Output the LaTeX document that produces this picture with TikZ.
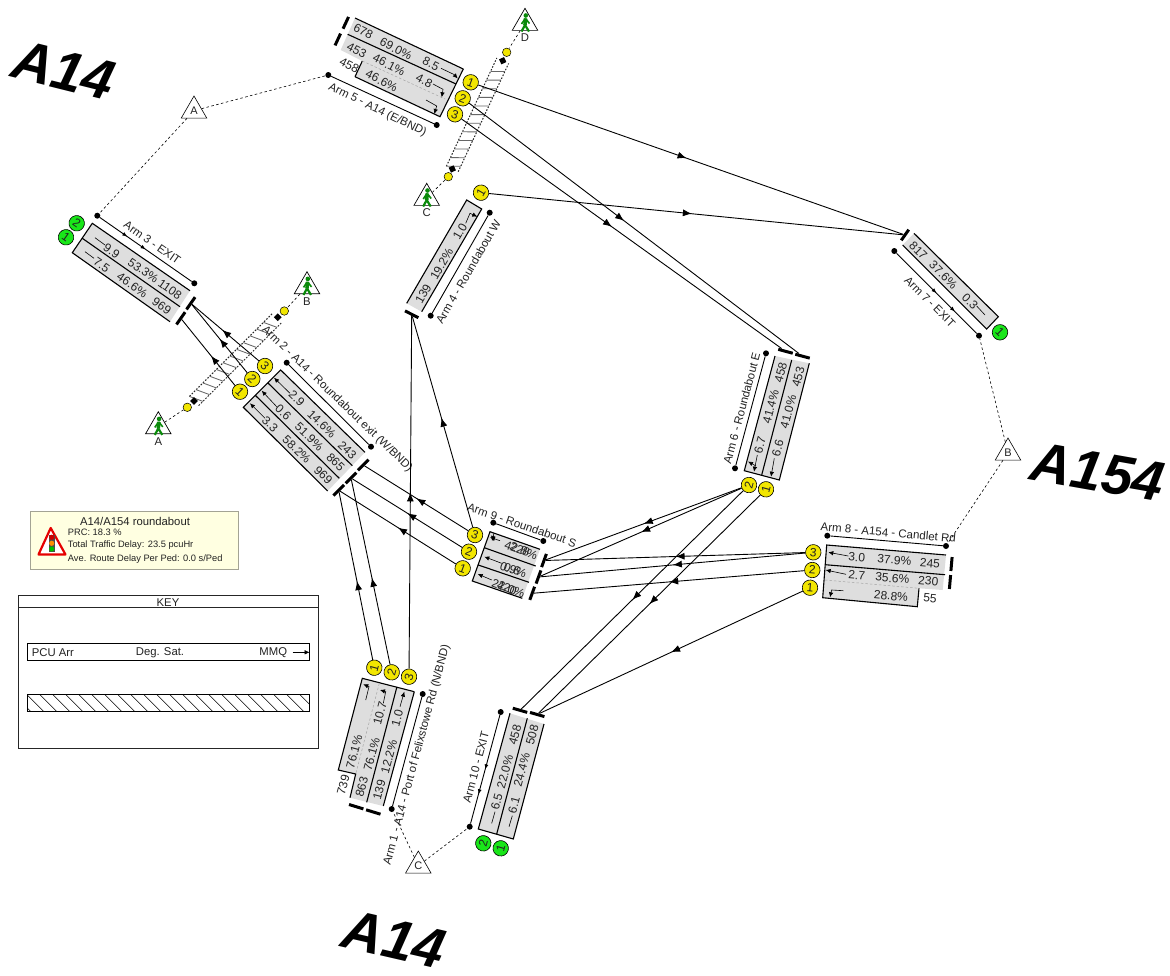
\documentclass[tikz,border=0pt]{standalone}
\usepackage{fontspec}
\setmainfont{Liberation Sans}
\usetikzlibrary{arrows.meta,decorations.markings,shapes.geometric,calc}
\definecolor{lanegray}{HTML}{DEDEDE}
\definecolor{inkc}{HTML}{222222}
\definecolor{sigyellow}{HTML}{F2E600}
\definecolor{siggreen}{HTML}{19E619}
\definecolor{walkgreen}{HTML}{0A8A0A}
\definecolor{boxyellow}{HTML}{FFFFE1}
\newcounter{tn}
\newcommand{\fs}[1]{\fontsize{#1}{#1}\selectfont}
% text in a lane
\newcommand{\lanetext}[4]{\stepcounter{tn}\node[lanelabel,rotate=#3] (t\arabic{tn}) at (#1,#2) {#4};}
\newcommand{\armname}[4]{\stepcounter{tn}\node[armlabel,rotate=#3] (t\arabic{tn}) at (#1,#2) {#4};}
% signal circles
\newcommand{\sigc}[6]{\node[#1,rotate=#5] (#2) at (#3,#4) {#6};}
% stop line
\newcommand{\stopl}[5]{\node[stopbar,rotate=#4,minimum width=#5] (#1) at (#2,#3) {};}
% pedestrian sign
\newcommand{\pedsign}[4]{%
  \pgfmathsetmacro\psy{#3+14.7}\pgfmathsetmacro\psl{#3+29.5}%
  \node[pedtri] (#1) at (#2,\psy) {};
  \pic at (#2,\psy) {walker};
  \node[keytext,inner sep=0pt] (#1t) at (#2,\psl) {#4};}
% crossing
\newcommand{\crosswalk}[4]{%
  \pgfmathsetmacro\cwL{veclen(#3-#1,#4-#2)}%
  \pgfmathsetmacro\ux{(#3-#1)/\cwL}\pgfmathsetmacro\uy{(#4-#2)/\cwL}%
  \pgfmathsetmacro\nx{-\uy*6.5}\pgfmathsetmacro\ny{\ux*6.5}%
  \draw[cwedge] (#1+\nx,#2+\ny) -- (#3+\nx,#4+\ny);
  \draw[cwedge] (#1-\nx,#2-\ny) -- (#3-\nx,#4-\ny);
  \pgfmathtruncatemacro\cwN{(\cwL-6)/9.5}%
  \foreach \i in {0,...,\cwN}{%
    \pgfmathsetmacro\sa{6+\i*9.5}\pgfmathsetmacro\sb{\sa-6}%
    \draw[cwhatch] (#1+\ux*\sa+\nx,#2+\uy*\sa+\ny) -- (#1+\ux*\sb-\nx,#2+\uy*\sb-\ny);
  }}
\tikzset{
  lanelabel/.style={inner sep=0pt,text=inkc,font=\fs{12}},
  armlabel/.style={inner sep=0pt,text=inkc,font=\fs{11.5}},
  keytext/.style={inner sep=0pt,text=inkc,font=\fs{11.3}},
  lanefill/.style={fill=lanegray,draw=none},
  edge/.style={line width=1.1pt,black},
  divgray/.style={dashed,line width=.5pt,gray!70,dash pattern=on 2.5pt off 2pt},
  lanearrow/.style={line width=.6pt,black,-{Latex[length=5pt,width=4.5pt]}},
  lanedash/.style={line width=.6pt,black},
  sigy/.style={circle,draw=black,line width=.6pt,fill=sigyellow,minimum size=15.5pt,inner sep=0pt,text=inkc,font=\fs{12}},
  sigg/.style={circle,draw=black,line width=.6pt,fill=siggreen,minimum size=15.5pt,inner sep=0pt,text=inkc,font=\fs{12}},
  stopbar/.style={fill=black,draw=none,minimum height=3pt,inner sep=0pt},
  armdot/.style={circle,fill=black,minimum size=6pt,inner sep=0pt},
  armline/.style={line width=.9pt,black},
  midtip/.style={postaction={decorate},decoration={markings,mark=at position .5 with {\arrow{Latex[length=5pt,width=4pt]}}}},
  flow/.style={line width=.9pt,black,postaction={decorate},decoration={markings,mark=at position #1 with {\arrow{Latex[length=9pt,width=7pt]}}}},
  flow/.default=0.5,
  zonetri/.style={regular polygon,regular polygon sides=3,draw=black,line width=.6pt,fill=white,minimum size=29.4pt,inner sep=0pt,text=inkc,font=\fs{11}},
  pedtri/.style={regular polygon,regular polygon sides=3,draw=black,line width=.7pt,fill=white,minimum size=29.4pt,inner sep=0pt},
  zonelink/.style={dashed,line width=.6pt,black,dash pattern=on 2.5pt off 2.5pt},
  cwedge/.style={line width=1pt,black!85,dash pattern=on 1.6pt off 1.6pt},
  cwhatch/.style={line width=.85pt,black!60},
  pedsq/.style={fill=black,minimum size=5.5pt,inner sep=0pt},
  pedcirc/.style={circle,draw=black,line width=.5pt,fill=sigyellow,minimum size=8.5pt,inner sep=0pt},
  biglabel/.style={inner sep=0pt,font=\fs{56}\bfseries\itshape,text=black},
  walker/.pic={
    \fill[walkgreen] (0.8,-7.5) circle (2.3);
    \draw[walkgreen,line width=3.6pt] (0.5,-4.5) -- (0,2);
    \draw[walkgreen,line width=2.2pt] (0,2) -- (-3.5,8.5) (0,2) -- (4,8.5);
    \draw[walkgreen,line width=1.6pt] (0.3,-4.5) -- (-3.5,1) (0.5,-4.5) -- (4.5,0.5);
  },
}
\begin{document}
\begin{tikzpicture}[x=1pt,y=-1pt]
\useasboundingbox (0,0) rectangle (1170,975);
\fill[white] (0,0) rectangle (1170,975);

% big road names
\node[biglabel,rotate=-14] (roadA) at (64,70) {A14};
\node[biglabel,rotate=-10] (roadB) at (1098,472) {A154};
\node[biglabel,rotate=-13] (roadC) at (394,939) {A14};

% zones
\node[zonetri] (zA) at (194,110.7) {A};
\node[zonetri] (zB) at (1008,452.7) {B};
\node[zonetri] (zC) at (418.3,865.7) {C};

% ---- crossings
\crosswalk{452.3}{169}{502.7}{60.7}
\crosswalk{194}{401}{277.7}{317.3}
\node[pedsq,rotate=25] (sqC) at (452.3,169) {};
\node[pedsq,rotate=25] (sqD) at (502.7,60.7) {};
\node[pedsq,rotate=45] (sqA) at (194,401) {};
\node[pedsq,rotate=45] (sqB) at (277.7,317.3) {};
\node[pedcirc] (pcC) at (448.3,176.7) {};
\node[pedcirc] (pcD) at (506.7,52.3) {};
\node[pedcirc] (pcA) at (187.3,407.3) {};
\node[pedcirc] (pcB) at (284.3,311) {};
\pedsign{psC}{426.7}{183.3}{C}
\pedsign{psD}{525}{8.3}{D}
\pedsign{psA}{158.3}{411.7}{A}
\pedsign{psB}{307}{271.7}{B}
\draw[zonelink] (psC) -- (pcC);
\draw[zonelink] (psD) -- (pcD);
\draw[zonelink] (psA) -- (pcA);
\draw[zonelink] (psB) -- (pcB);

% ---- Arm 5
\filldraw[lanefill] (355,18) -- (463.3,69) -- (440,116.7) -- (355,76.7) -- (362.3,61) -- (340.7,50) -- (347.7,34.3) -- cycle;
\draw[edge] (355,18) -- (463.3,69) (347.7,34.3) -- (456,84);
\draw[edge] (355,76.7) -- (362.3,61) (355,76.7) -- (440,116.7) -- (463.3,69);
\draw[divgray] (362.3,61) -- (445,99);
\lanetext{363.3}{31.7}{-27}{678}
\lanetext{396}{49}{-27}{69.0\%}
\lanetext{431}{64}{-27}{8.5}
\lanetext{356.7}{50.7}{-27}{453}
\lanetext{389}{65}{-27}{46.1\%}
\lanetext{424.3}{81}{-27}{4.8}
\lanetext{349.3}{65.7}{-27}{458}
\lanetext{381.7}{81}{-27}{46.6\%}
\draw[lanearrow] (441,68.3) -- (454,74.5) -- (457.7,78.5);
\draw[lanearrow] (433,84) -- (443,89.3) -- (441.7,97.3);
\draw[lanearrow] (426,100) -- (436.7,106) -- (434.3,114);
\node[armdot] (d5a) at (328.3,75) {};
\node[armdot] (d5b) at (436.7,125) {};
\draw[armline] (d5a) -- (d5b);
\armname{377.5}{110}{-26}{Arm 5 - A14 (E/BND)}
\stopl{b51}{345.8}{22.8}{65}{13}
\stopl{b52}{337.8}{39.5}{65}{13}
\sigc{sigy}{c51}{470.7}{82.3}{-20}{1}
\sigc{sigy}{c52}{462.7}{98.3}{-20}{2}
\sigc{sigy}{c53}{455}{114.3}{-20}{3}

% ---- Arm 3
\filldraw[lanefill] (92.3,223.3) -- (190,290.7) -- (170,321.7) -- (72.3,252.7) -- cycle;
\draw[edge] (190,290.7) -- (92.3,223.3) -- (72.3,252.7) -- (170,321.7) (82.3,238.3) -- (180,306.7);
\draw[lanedash] (95,237.7) -- (105,245) (85,251.7) -- (94,258.3);
\lanetext{111.7}{250.7}{-35}{9.9}
\lanetext{143.3}{270.7}{-35}{53.3\%}
\lanetext{170}{289.3}{-35}{1108}
\lanetext{101.7}{265}{-35}{7.5}
\lanetext{132.3}{285}{-35}{46.6\%}
\lanetext{161.7}{306}{-35}{969}
\node[armdot] (d3a) at (97.3,215.7) {};
\node[armdot] (d3b) at (194.3,283.3) {};
\draw[armline,midtip,decoration={markings,mark=at position .3 with {\arrow{Latex[length=5pt,width=4pt]}}}] (d3a) -- (d3b);
\armname{152.3}{242.7}{-35}{Arm 3 - EXIT}
\stopl{b31}{190.8}{303.3}{55}{15}
\stopl{b32}{180.8}{318.3}{55}{15}
\sigc{sigg}{c32}{76.7}{223.3}{-35}{2}
\sigc{sigg}{c31}{66}{237.3}{-35}{1}

% ---- Arm 2
\filldraw[lanefill] (280.7,370) -- (365,452.3) -- (327.7,491) -- (243.3,407.3) -- cycle;
\draw[edge] (365,452.3) -- (280.7,370) -- (243.3,407.3) -- (327.7,491) (268.3,383.3) -- (352.3,465.7) (255,395) -- (339.3,478.3);
\lanetext{296.7}{398.3}{-44}{2.9}
\lanetext{321.7}{424}{-44}{14.6\%}
\lanetext{347.3}{450}{-44}{243}
\lanetext{283.3}{412.7}{-44}{0.6}
\lanetext{309.3}{436.7}{-44}{51.9\%}
\lanetext{335.7}{462.3}{-44}{865}
\lanetext{270}{424}{-44}{3.3}
\lanetext{296.7}{449.3}{-44}{58.2\%}
\lanetext{323.3}{475}{-44}{969}
\draw[lanearrow] (290,393.3) -- (274,377.7);
\draw[lanearrow] (276.7,406.7) -- (261.7,390.7);
\draw[lanearrow] (265,418.3) -- (250,403.3);
\node[armdot] (d2a) at (286.7,362.7) {};
\node[armdot] (d2b) at (371,446.7) {};
\draw[armline] (d2a) -- (d2b);
\armname{337}{399}{-44}{Arm 2 - A14 - Roundabout exit (W/BND)}
\stopl{b21}{363.2}{465}{45}{15}
\stopl{b22}{351}{478}{45}{15}
\stopl{b23}{338.7}{490.3}{45}{15}
\sigc{sigy}{c23}{265}{366}{-44}{3}
\sigc{sigy}{c22}{252.3}{379}{-44}{2}
\sigc{sigy}{c21}{240}{391.7}{-44}{1}

% ---- Arm 4
\filldraw[lanefill] (466.7,200) -- (481.7,209) -- (421.7,311.7) -- (406.7,303.3) -- cycle;
\draw[edge] (421.7,311.7) -- (481.7,209) -- (466.7,200) -- (406.7,303.3);
\lanetext{423.3}{294}{60}{139}
\lanetext{441.7}{264}{60}{19.2\%}
\lanetext{460}{231.7}{60}{1.0}
\draw[lanearrow] (465.7,223.3) -- (470,213.3) -- (477.3,216.7);
\node[armdot] (d4a) at (489.7,212.7) {};
\node[armdot] (d4b) at (430.7,315.7) {};
\draw[armline] (d4a) -- (d4b);
\armname{468.3}{271.7}{60}{Arm 4 - Roundabout W}
\stopl{b41}{411.7}{314.3}{-27}{15}
\sigc{sigy}{c41}{481}{192.7}{60}{1}

% ---- Arm 7
\filldraw[lanefill] (914,233.3) -- (998.3,316.7) -- (986.7,329) -- (902.7,245) -- cycle;
\draw[edge] (914,233.3) -- (998.3,316.7) -- (986.7,329) -- (902.7,245);
\lanetext{918.3}{250.7}{-45}{817}
\lanetext{943.3}{275}{-45}{37.6\%}
\lanetext{970}{301.7}{-45}{0.3}
\draw[lanedash] (976.7,306) -- (985,315);
\node[armdot] (d7a) at (894.3,251) {};
\node[armdot] (d7b) at (979,335.7) {};
\draw[armline,midtip,decoration={markings,mark=at position .73 with {\arrow{Latex[length=5pt,width=4pt]}}}] (d7a) -- (d7b);
\armname{930}{301.7}{-45}{Arm 7 - EXIT}
\stopl{b71}{905}{235}{55}{13}
\sigc{sigg}{c71}{1000}{332.3}{-45}{1}

% ---- Arm 6
\filldraw[lanefill] (775,356) -- (809.3,363.3) -- (779.3,480) -- (744.3,470.7) -- cycle;
\draw[edge] (775,356) -- (744.3,470.7) -- (779.3,480) -- (809.3,363.3) (791.7,360) -- (761.7,475);
\lanetext{760}{445}{75}{6.7}
\lanetext{770.7}{406.7}{75}{41.4\%}
\lanetext{780.7}{372.3}{75}{458}
\lanetext{777.7}{448.3}{75}{6.6}
\lanetext{788.3}{411.7}{75}{41.0\%}
\lanetext{798.3}{376.7}{75}{453}
\draw[lanearrow] (757.3,455) -- (754,471.7);
\draw[lanearrow] (774.3,458.3) -- (771,476.7);
\draw[lanearrow] (756,466) -- (748,461.5);
\node[armdot] (d6a) at (766,353.3) {};
\node[armdot] (d6b) at (735,468.3) {};
\draw[armline] (d6a) -- (d6b);
\armname{741.7}{408.3}{75}{Arm 6 - Roundabout E}
\stopl{b61}{785.5}{351.3}{-15}{15}
\stopl{b62}{802.5}{356.2}{-15}{15}
\sigc{sigy}{c62}{749}{485}{75}{2}
\sigc{sigy}{c61}{766}{489.3}{75}{1}

% ---- Arm 8
\filldraw[lanefill] (826.7,545) -- (946,555) -- (942.7,590) -- (919,588.3) -- (917.3,606.7) -- (822.7,597.7) -- cycle;
\draw[edge] (946,555) -- (826.7,545) -- (822.7,597.7) -- (917.3,606.7) -- (919,588.3);
\draw[edge] (825.3,564.7) -- (945,574.7);
\draw[divgray] (825,580) -- (919,588.3);
\lanetext{856.7}{557.3}{-5}{3.0}
\lanetext{894.3}{560}{-5}{37.9\%}
\lanetext{930}{563.3}{-5}{245}
\lanetext{856.7}{575}{-5}{2.7}
\lanetext{892.3}{578.3}{-5}{35.6\%}
\lanetext{928.3}{581}{-5}{230}
\lanetext{891}{596}{-5}{28.8\%}
\lanetext{930}{598.3}{-5}{55}
\draw[lanearrow] (848.3,556) -- (828.3,552.3);
\draw[lanearrow] (846,574.3) -- (825.7,570);
\draw[lanearrow] (843.3,590.7) -- (831.7,590) -- (830,597.3);
\node[armdot] (d8a) at (827.3,535.7) {};
\node[armdot] (d8b) at (946,546) {};
\draw[armline] (d8a) -- (d8b);
\armname{888.3}{532.5}{-5}{Arm 8 - A154 - Candlet Rd}
\stopl{b81}{951.5}{564}{85}{14}
\stopl{b82}{950}{582}{85}{14}
\sigc{sigy}{c83}{813.3}{552.3}{-5}{3}
\sigc{sigy}{c82}{812.3}{570}{-5}{2}
\sigc{sigy}{c81}{810}{587.7}{-5}{1}

% ---- Arm 9
\filldraw[lanefill] (490,531.7) -- (540,549.3) -- (522.3,598.3) -- (472.3,581) -- cycle;
\draw[edge] (540,549.3) -- (490,531.7) -- (472.3,581) -- (522.3,598.3) (484.3,547.7) -- (535.7,566) (478.3,565) -- (529,582.3);
\lanetext{521}{550}{-20}{42.8\%}
\lanetext{520}{549.5}{-20}{228}
\lanetext{513.3}{570}{-20}{0.9\%}
\lanetext{512}{569.5}{-20}{0.6}
\lanetext{508.3}{588.3}{-20}{22.0\%}
\lanetext{507}{588}{-20}{420}
\draw[lanearrow] (500,540.7) -- (490,537.3);
\draw[lanearrow] (501.7,563.3) -- (484.3,556.7);
\draw[lanearrow] (491.7,580) -- (477.7,574);
\draw[lanearrow] (494,533) -- (492,541);
\node[armdot] (d9a) at (493.3,522.7) {};
\node[armdot] (d9b) at (543.3,541) {};
\draw[armline] (d9a) -- (d9b);
\armname{522}{525}{-19}{Arm 9 - Roundabout S}
\stopl{b91}{544}{560.5}{70}{14}
\stopl{b92}{538.5}{577}{70}{14}
\stopl{b93}{532.2}{593.3}{70}{14}
\sigc{sigy}{c93}{475}{535}{-20}{3}
\sigc{sigy}{c92}{469}{551.7}{-20}{2}
\sigc{sigy}{c91}{462.7}{568.3}{-20}{1}

% ---- Arm 1
\filldraw[lanefill] (362.3,678.3) -- (414.3,691.7) -- (383.3,806) -- (350,797.7) -- (355.7,774) -- (338.3,770) -- cycle;
\draw[edge] (414.3,691.7) -- (362.3,678.3) -- (338.3,770) -- (355.7,774) -- (350,797.7) (414.3,691.7) -- (383.3,806) (396.7,687.7) -- (366.7,802.3);
\draw[divgray] (379.3,683.3) -- (355.7,774);
\lanetext{354.3}{751.7}{75}{76.1\%}
\lanetext{343.3}{785}{75}{739}
\lanetext{371.7}{754.3}{75}{76.1\%}
\lanetext{361.7}{786.7}{75}{863}
\lanetext{380}{713.3}{75}{10.7}
\lanetext{389}{756.7}{75}{12.2\%}
\lanetext{379.3}{790}{75}{139}
\lanetext{397.3}{718.3}{75}{1.0}
\draw[lanearrow] (365.7,700) -- (369,686.7) -- (363.3,684.3);
\draw[lanearrow] (383.3,703.3) -- (385.7,691.7) -- (380,690);
\draw[lanearrow] (400,706.7) -- (404.3,691.7);
\node[armdot] (d1a) at (422.7,694) {};
\node[armdot] (d1b) at (391.7,809) {};
\draw[armline] (d1a) -- (d1b);
\armname{417}{755}{75}{Arm 1 - A14 - Port of Felixstowe Rd (N/BND)}
\stopl{b11}{356.2}{806.7}{-17}{15}
\stopl{b12}{373.3}{812}{-17}{15}
\sigc{sigy}{c11}{374.3}{667.7}{75}{1}
\sigc{sigy}{c12}{391.7}{672.3}{75}{2}
\sigc{sigy}{c13}{409}{676.7}{75}{3}

% ---- Arm 10
\filldraw[lanefill] (510,713.3) -- (544,724) -- (513.3,839) -- (478.3,829) -- cycle;
\draw[edge] (510,713.3) -- (478.3,829) -- (513.3,839) -- (544,724) (527.3,718.3) -- (496.7,834);
\draw[lanedash] (491.7,823.3) -- (495,811.7) (509,826.7) -- (512.3,815.7);
\lanetext{496.7}{801.7}{75}{6.5}
\lanetext{505}{771.7}{75}{22.0\%}
\lanetext{515}{735}{75}{458}
\lanetext{514}{805}{75}{6.1}
\lanetext{521.7}{770}{75}{24.4\%}
\lanetext{532.3}{735}{75}{508}
\node[armdot] (d10a) at (500.7,712) {};
\node[armdot] (d10b) at (469.7,826.7) {};
\draw[armline,midtip,decoration={markings,mark=at position .73 with {\arrow{Latex[length=5pt,width=4pt]}}}] (d10a) -- (d10b);
\armname{476}{767.3}{75}{Arm 10 - EXIT}
\stopl{b101}{520}{710.3}{-16}{15}
\stopl{b102}{537.2}{714.5}{-16}{15}
\sigc{sigg}{c102}{483.3}{843.3}{75}{2}
\sigc{sigg}{c101}{500.7}{848.3}{75}{1}

% ---- zone links
\draw[zonelink] (zA) -- (d5a);
\draw[zonelink] (zA) -- (d3a);
\draw[zonelink] (zB) -- (d7b);
\draw[zonelink] (zB) -- (d8b);
\draw[zonelink] (zC) -- (d1b);
\draw[zonelink] (zC) -- (d10b);

% ---- traffic flows
\draw[flow=.45] (c21) -- (b32);
\draw[flow=.5] (c22) -- (b31);
\draw[flow=.55] (c23) -- (b31);
\draw[flow=.49] (c51) -- (b71);
\draw[flow=.49] (c41) -- (b71);
\draw[flow=.47] (c52) -- (b62);
\draw[flow=.47] (c53) -- (b61);
\draw[flow=.5] (c93) -- (b21);
\draw[flow=.5] (c92) -- (b22);
\draw[flow=.5] (c91) -- (b23);
\draw[flow=.52] (c93) -- (b41);
\draw[flow=.47] (c11) -- (b23);
\draw[flow=.47] (c12) -- (b22);
\draw[flow=.5] (c13) -- (b41);
\draw[flow=.5] (c62) -- (b91);
\draw[flow=.5] (c62) -- (b92);
\draw[flow=.5] (c83) -- (b91);
\draw[flow=.5] (c83) -- (b92);
\draw[flow=.5] (c82) -- (b93);
\draw[flow=.5] (c62) -- (b101);
\draw[flow=.5] (c61) -- (b102);
\draw[flow=.5] (c81) -- (b102);

% ---- info box
\node[draw=black!30!boxyellow!70!gray,line width=.8pt,fill=boxyellow,minimum width=207.6pt,minimum height=57.3pt,inner sep=0pt] (info) at (134.5,540.3) {};
\node[inner sep=0pt,text=inkc,font=\fs{11.3}] (infoT) at (135,521) {A14/A154 roundabout};
\node[inner sep=0pt,anchor=west,text=inkc,font=\fs{9.3}] (info1) at (67.7,532.7) {PRC: 18.3 \%};
\node[inner sep=0pt,anchor=west,text=inkc,font=\fs{9.3}] (info2) at (67.7,544.7) {Total Traffic Delay: 23.5 pcuHr};
\node[inner sep=0pt,anchor=west,text=inkc,font=\fs{9.3}] (info3) at (67.7,559) {Ave. Route Delay Per Ped: 0.0 s/Ped};
\draw[red!90!black,line width=2.2pt,fill=white,line join=round] (50.7,528) -- (38.5,554.5) -- (65.5,554.5) -- cycle;
\fill[black!70] (49,534.5) rectangle (54.5,552);
\fill[red!80!black] (51.7,537.3) circle (2.6);
\fill[orange!90!yellow] (51.7,543.3) circle (2.6);
\fill[green!75!black] (51.7,549) circle (2.6);

% ---- key
\node[draw=black!85,line width=.8pt,minimum width=300pt,minimum height=153.3pt,inner sep=0pt] (keybox) at (168.3,671.7) {};
\draw[line width=.7pt,black!85] (18.3,607.7) -- (319,607.7);
\node[keytext] (keyT) at (168,602.5) {KEY};
\node[draw=black,line width=.7pt,minimum width=282pt,minimum height=17pt,inner sep=0pt] (keyrow) at (168.3,651.8) {};
\node[keytext,anchor=west] (keyA) at (31.7,653) {PCU Arr};
\node[keytext] (keyB) at (160,653) {Deg. Sat.};
\node[keytext] (keyC) at (273.3,653) {MMQ};
\coordinate (keyar) at (292.7,652.3);
\draw[lanearrow] (keyar) -- (keyrow.east |- keyar);
\node[draw=black,line width=.7pt,minimum width=282pt,minimum height=16.6pt,inner sep=0pt] (keyhatch) at (168.3,703) {};
\begin{scope}
\clip (27.3,694.7) rectangle (309.3,711.3);
\foreach \hx in {0,13,...,299}{
  \draw[line width=.6pt,black] (14+\hx,694.7) -- (30.6+\hx,711.3);
}
\end{scope}
\end{tikzpicture}
\end{document}
